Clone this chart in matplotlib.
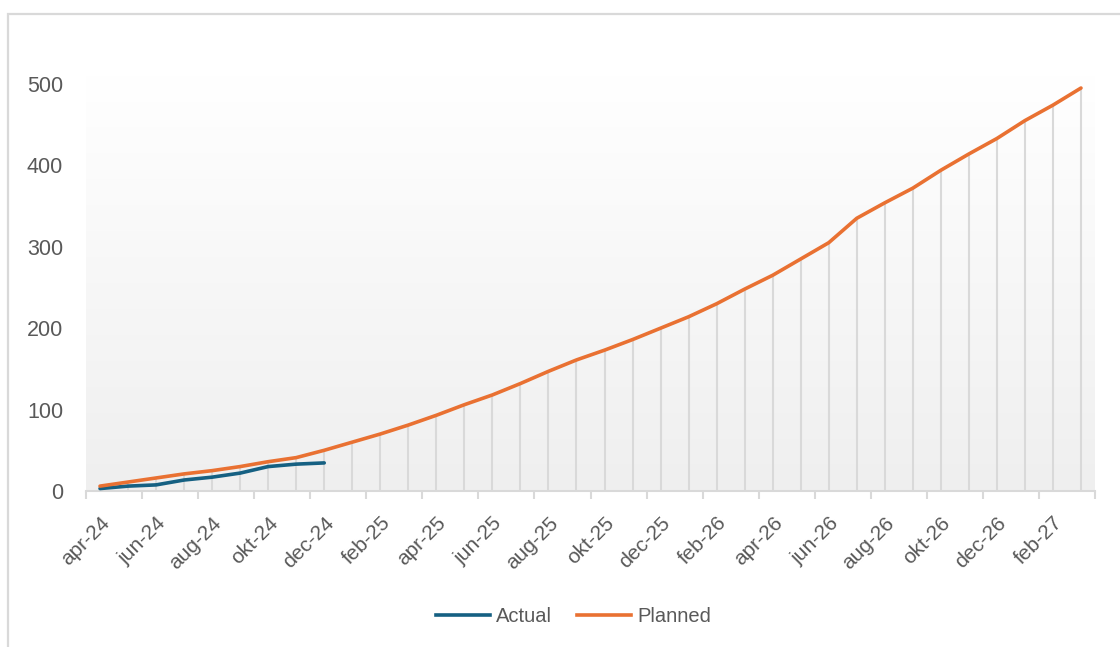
import numpy as np
import matplotlib
matplotlib.use("Agg")
import matplotlib.pyplot as plt
from matplotlib.patches import Rectangle
from matplotlib.lines import Line2D
from matplotlib.colors import LinearSegmentedColormap

months = ["apr-24", "mei-24", "jun-24", "jul-24", "aug-24", "sep-24", "okt-24", "nov-24", "dec-24",
          "jan-25", "feb-25", "mrt-25", "apr-25", "mei-25", "jun-25", "jul-25", "aug-25", "sep-25",
          "okt-25", "nov-25", "dec-25", "jan-26", "feb-26", "mrt-26", "apr-26", "mei-26", "jun-26",
          "jul-26", "aug-26", "sep-26", "okt-26", "nov-26", "dec-26", "jan-27", "feb-27", "mrt-27"]
planned = [6, 11, 16, 21, 25, 30, 36, 41, 50, 60, 70, 81, 93, 106, 118, 132, 147, 161,
           173, 186, 200, 214, 230, 248, 265, 285, 305, 335, 354, 372, 394, 414, 433, 455, 474, 495]
actual = [3, 6, 7.5, 13.5, 17, 22, 30, 33, 34.5]
yticks = [0, 100, 200, 300, 400, 500]

C_ACT = "#156082"
C_PLAN = "#E97132"
TXT = "#595959"
GRID = "#d9d9d9"

plt.rcParams['font.family'] = ['Liberation Sans', 'DejaVu Sans']

fig = plt.figure(figsize=(11.2, 6.47), dpi=100)
W, H = 1120, 647
fig.patches.append(Rectangle((8 / W, -0.1), 1.2, 1 - 14 / H + 0.1, transform=fig.transFigure,
                             fill=False, edgecolor="#d9d9d9", linewidth=1.6))

ax = fig.add_axes([86 / W, 1 - 491 / H, (1095 - 86) / W, (491 - 75) / H])
n = len(months)
x = np.arange(n)
ax.set_xlim(-0.5, n - 0.5)
ax.set_ylim(0, 511)

# gradient background
grad = np.linspace(0.0, 1.0, 256).reshape(-1, 1)
cmap = LinearSegmentedColormap.from_list("g", ["#efefef", "#ffffff"])
ax.imshow(grad, extent=[-0.5, n - 0.5, 0, 511], aspect="auto", cmap=cmap, vmin=0, vmax=1,
          zorder=0, origin="lower")

# drop lines
ax.vlines(x, 0, planned, colors=GRID, linewidth=1.5, zorder=1)

ax.plot(x[:len(actual)], actual, color=C_ACT, linewidth=2.6, zorder=3, solid_capstyle="round")
ax.plot(x, planned, color=C_PLAN, linewidth=2.6, zorder=3, solid_capstyle="round")

for s in ["top", "right", "left"]:
    ax.spines[s].set_visible(False)
ax.spines["bottom"].set_color(GRID)
ax.spines["bottom"].set_linewidth(1.5)
ax.spines["bottom"].set_zorder(2)

ax.set_yticks(yticks)
ax.set_yticklabels([str(v) for v in yticks])
ax.tick_params(axis="y", length=0, pad=16.5, labelsize=15.5, labelcolor=TXT)

ax.set_xticks(np.arange(-0.5, n, 2.0))
ax.set_xticklabels([])
ax.tick_params(axis="x", which="major", length=6, width=1.5, color=GRID, direction="out")
lab_pos = x[::2]
ax.set_xticks(lab_pos, minor=True)
ax.set_xticklabels([months[i] for i in lab_pos], minor=True, rotation=45, ha="right",
                   rotation_mode="anchor", fontsize=15, color=TXT)
ax.tick_params(axis="x", which="minor", length=0, pad=16)

handles = [Line2D([], [], color=C_ACT, linewidth=2.6), Line2D([], [], color=C_PLAN, linewidth=2.6)]
fig.legend(handles, ["Actual", "Planned"], loc="center", bbox_to_anchor=(0.512, 1 - 617 / H),
           ncol=2, frameon=False, fontsize=14.5, labelcolor=TXT, handlelength=2.7,
           handletextpad=0.3, columnspacing=1.2)

fig.savefig("out.png", dpi=100, facecolor="white")
